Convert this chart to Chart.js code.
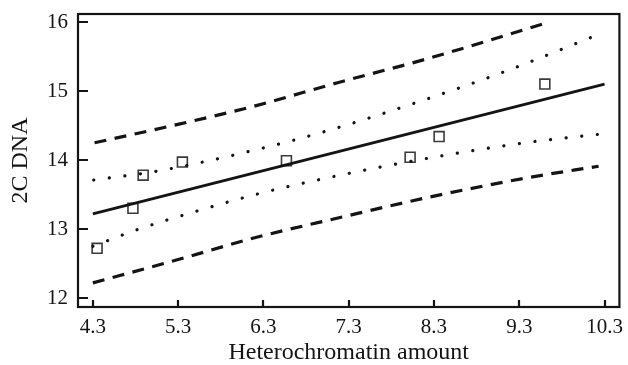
<!DOCTYPE html>
<html>
<head>
<meta charset="utf-8">
<script src="https://cdn.jsdelivr.net/npm/chart.js@4.4.1/dist/chart.umd.min.js"></script>
<style>
  html, body { margin: 0; padding: 0; background: #ffffff; }
  canvas { display: block; }
</style>
</head>
<body>
<canvas id="c" width="628" height="365"></canvas>
<script>
// Observed data points (open squares)
const pointX = [4.35, 4.77, 4.89, 5.35, 6.57, 8.02, 8.36, 9.60];
const pointY = [12.72, 13.30, 13.78, 13.97, 13.99, 14.04, 14.34, 15.10];

// Regression line
const regX = [4.3, 10.3];
const regY = [13.22, 15.10];

// Outer (dashed) band
const upperDashX = [4.32, 5.31, 6.16, 7.17, 8.20, 9.63];
const upperDashY = [14.25, 14.52, 14.77, 15.12, 15.46, 15.99];
const lowerDashX = [4.3, 5.28, 6.22, 7.21, 8.20, 9.38, 10.23];
const lowerDashY = [12.22, 12.55, 12.88, 13.17, 13.45, 13.74, 13.91];

// Inner (dotted) band
const upperDotX = [4.31, 5.06, 6.15, 7.04, 8.11, 9.17, 10.21];
const upperDotY = [13.71, 13.84, 14.13, 14.42, 14.84, 15.30, 15.81];
const lowerDotX = [4.3, 4.82, 5.52, 6.27, 7.16, 8.25, 9.37, 10.29];
const lowerDotY = [12.75, 12.99, 13.26, 13.52, 13.77, 14.03, 14.25, 14.38];

// Axis ticks
const xTicks = [4.3, 5.3, 6.3, 7.3, 8.3, 9.3, 10.3];
const yTicks = [12, 13, 14, 15, 16];

const xTitle = 'Heterochromatin amount';
const yTitle = '2C DNA';

const pairs = (xs, ys) => xs.map((x, i) => ({ x: x, y: ys[i] }));
const INK = '#141414';
const FONT = '"Liberation Serif", "Times New Roman", serif';

const framePlugin = {
  id: 'frame',
  afterDraw(chart) {
    const { ctx, chartArea: a, scales } = chart;
    ctx.save();
    ctx.strokeStyle = INK;
    ctx.lineWidth = 2.2;
    ctx.lineCap = 'butt';
    // inward tick marks
    ctx.beginPath();
    scales.y.ticks.forEach(t => {
      const py = Math.round(scales.y.getPixelForValue(t.value));
      ctx.moveTo(a.left, py);
      ctx.lineTo(a.left + 10, py);
    });
    scales.x.ticks.forEach(t => {
      const px = Math.round(scales.x.getPixelForValue(t.value));
      ctx.moveTo(px, a.bottom);
      ctx.lineTo(px, a.bottom - 7);
    });
    ctx.stroke();
    // box
    ctx.strokeRect(a.left, a.top, a.right - a.left, a.bottom - a.top);
    ctx.restore();
  }
};

const lineBase = {
  showLine: true,
  pointRadius: 0,
  pointHoverRadius: 0,
  borderColor: INK,
  backgroundColor: INK,
  fill: false
};

new Chart(document.getElementById('c'), {
  type: 'scatter',
  data: {
    datasets: [
      Object.assign({}, lineBase, { data: pairs(regX, regY), borderWidth: 2.8, tension: 0 }),
      Object.assign({}, lineBase, { data: pairs(upperDashX, upperDashY), borderWidth: 3.2, borderDash: [12, 8.5], cubicInterpolationMode: 'monotone' }),
      Object.assign({}, lineBase, { data: pairs(lowerDashX, lowerDashY), borderWidth: 3.2, borderDash: [12, 8.5], cubicInterpolationMode: 'monotone' }),
      Object.assign({}, lineBase, { data: pairs(upperDotX, upperDotY), borderWidth: 3.2, borderDash: [0.1, 15.6], borderCapStyle: 'round', cubicInterpolationMode: 'monotone' }),
      Object.assign({}, lineBase, { data: pairs(lowerDotX, lowerDotY), borderWidth: 3.2, borderDash: [0.1, 15.6], borderCapStyle: 'round', cubicInterpolationMode: 'monotone' }),
      {
        data: pairs(pointX, pointY),
        showLine: false,
        pointStyle: 'rect',
        pointRadius: 7,
        pointHoverRadius: 7,
        borderWidth: 1.6,
        borderColor: '#3a3a3a',
        backgroundColor: 'rgba(255,255,255,0)'
      }
    ]
  },
  options: {
    responsive: false,
    animation: false,
    events: [],
    layout: { padding: { top: 14, right: 4, left: 0, bottom: 0 } },
    plugins: { legend: { display: false }, tooltip: { enabled: false } },
    scales: {
      x: {
        type: 'linear',
        min: 4.126,
        max: 10.474,
        afterBuildTicks: s => { s.ticks = xTicks.map(v => ({ value: v })); },
        afterFit: s => { s.height = 58; s.paddingLeft = 0; s.paddingRight = 0; },
        grid: { display: false, drawTicks: false },
        border: { display: false },
        ticks: {
          padding: 8,
          color: INK,
          maxRotation: 0,
          autoSkip: false,
          font: { family: FONT, size: 21 },
          callback: v => Number(v).toFixed(1)
        },
        title: {
          display: true,
          text: xTitle,
          color: INK,
          font: { family: FONT, size: 24, lineHeight: 1.0 },
          padding: { top: 0, bottom: 0 }
        }
      },
      y: {
        type: 'linear',
        min: 11.87,
        max: 16.116,
        afterBuildTicks: s => { s.ticks = yTicks.map(v => ({ value: v })); },
        afterFit: s => { s.width = 78; s.paddingTop = 0; s.paddingBottom = 0; },
        grid: { display: false, drawTicks: false },
        border: { display: false },
        ticks: {
          padding: 10,
          color: INK,
          autoSkip: false,
          font: { family: FONT, size: 21 },
          callback: v => String(v)
        },
        title: {
          display: true,
          text: yTitle,
          color: INK,
          font: { family: FONT, size: 24, lineHeight: 1.2 },
          padding: { top: 6, bottom: 0 }
        }
      }
    }
  },
  plugins: [framePlugin]
});
</script>
</body>
</html>
